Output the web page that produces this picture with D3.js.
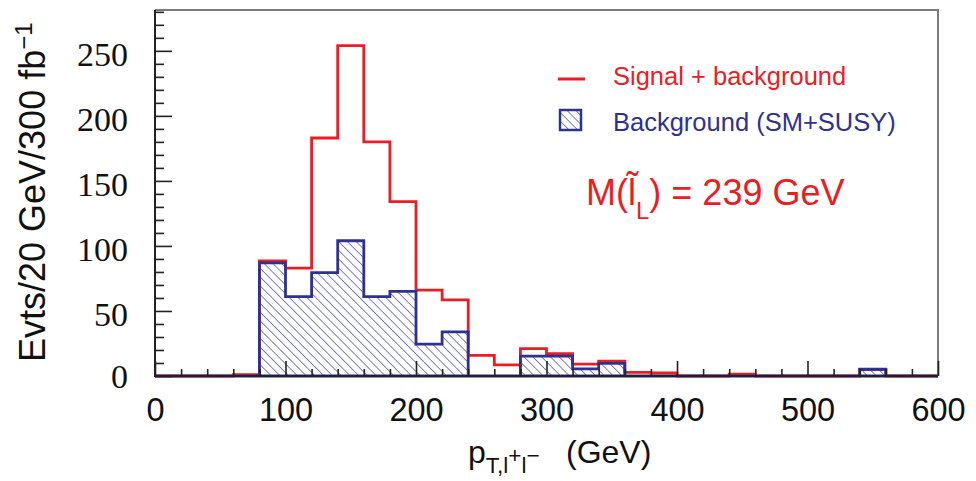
<!DOCTYPE html>
<html>
<head>
<meta charset="utf-8">
<script src="https://cdn.jsdelivr.net/npm/d3@7"></script>
<style>
  body { margin: 0; background: #ffffff; }
  svg { display: block; }
</style>
</head>
<body>
<svg id="chart" width="976" height="481"></svg>
<script>
// Lower edges of the 20 GeV bins in p_T(l+l-)
const binLow = [0, 20, 40, 60, 80, 100, 120, 140, 160, 180, 200, 220, 240, 260, 280,
                300, 320, 340, 360, 380, 400, 420, 440, 460, 480, 500, 520, 540, 560, 580];
const binWidth = 20;

// Signal + background, events / 20 GeV / 300 fb^-1
const signalPlusBkg = [0, 0, 0, 1, 88.5, 83, 183, 254, 180, 134, 66, 58.5, 15.8, 8.5, 21,
                       17.2, 9.2, 11.5, 2.8, 2.3, 0, 0, 1.5, 0, 0, 0, 0, 5, 0, 0];
// Background only (SM + SUSY)
const background = [0, 0, 0, 0, 87, 61, 79.5, 104, 61, 65, 24.5, 34, 0, 0, 15.3,
                    15.3, 5.5, 9.7, 0, 0, 0, 0, 0, 0, 0, 0, 0, 5.2, 0, 0];

const xMajorTicks = [0, 100, 200, 300, 400, 500, 600];
const yMajorTicks = [0, 50, 100, 150, 200, 250];

const legendLabels = ["Signal + background", "Background (SM+SUSY)"];
const massLabel = { pre: "M(", particle: "l\u0303", sub: "L", post: ") = 239 GeV" };

const RED = "#ec1c24";
const BLUE = "#2e3192";

const svg = d3.select("#chart");
const plot = { left: 155, right: 938, top: 10, bottom: 376 };

const x = d3.scaleLinear().domain([0, 600]).range([plot.left, plot.right]);
const y = d3.scaleLinear().domain([0, 281.4]).range([plot.bottom, plot.top]);

// hatch pattern for the background histogram
const defs = svg.append("defs");
const hatch = defs.append("pattern")
  .attr("id", "hatch")
  .attr("patternUnits", "userSpaceOnUse")
  .attr("width", 6.2).attr("height", 6.2)
  .attr("patternTransform", "rotate(-45)");
hatch.append("line")
  .attr("x1", 0).attr("y1", 0).attr("x2", 0).attr("y2", 6.2)
  .attr("stroke", BLUE).attr("stroke-width", 1.2);

defs.append("clipPath").attr("id", "plotClip")
  .append("rect")
  .attr("x", plot.left).attr("y", plot.top - 2)
  .attr("width", plot.right - plot.left).attr("height", plot.bottom - plot.top + 4);

// build step points: two per bin
function steps(values) {
  const pts = [];
  values.forEach((v, i) => {
    pts.push([binLow[i], v]);
    pts.push([binLow[i] + binWidth, v]);
  });
  return pts;
}

const g = svg.append("g").attr("clip-path", "url(#plotClip)");

const line = d3.line().x(d => x(d[0])).y(d => y(d[1]));
const baseLine = d3.line().x(d => x(d[0])).y(() => y(0));
const area = d3.area().x(d => x(d[0])).y0(y(0)).y1(d => y(d[1]));

g.append("path")
  .datum(steps(signalPlusBkg))
  .attr("d", line)
  .attr("fill", "none")
  .attr("stroke", RED)
  .attr("stroke-width", 2.8)
  .attr("stroke-linejoin", "miter");

g.append("path")
  .datum(steps(background))
  .attr("d", area)
  .attr("fill", "url(#hatch)")
  .attr("stroke", BLUE)
  .attr("stroke-width", 2.8)
  .attr("stroke-linejoin", "miter");

// frame (top and right)
svg.append("path")
  .attr("d", `M${plot.left},${plot.top}H${plot.right}V${plot.bottom}`)
  .attr("fill", "none")
  .attr("stroke", "#7a7a7a")
  .attr("stroke-width", 2);

// y axis: major ticks with labels, minor ticks every 10
const yMinor = d3.range(0, 281, 10).filter(v => v % 50 !== 0);
const yAxisMinor = svg.append("g")
  .attr("transform", `translate(${plot.left},0)`)
  .call(d3.axisLeft(y).tickValues(yMinor).tickSizeInner(-9).tickSizeOuter(0).tickFormat(""));
const yAxis = svg.append("g")
  .attr("transform", `translate(${plot.left},0)`)
  .call(d3.axisLeft(y).tickValues(yMajorTicks).tickSizeInner(-17).tickSizeOuter(0).tickPadding(27));
[yAxis, yAxisMinor].forEach(a => {
  a.select(".domain").remove();
  a.selectAll(".tick line").attr("stroke", "#222").attr("stroke-width", 1.6);
});
yAxis.selectAll(".tick text")
  .attr("font-family", "'Liberation Serif', 'Times New Roman', serif")
  .attr("font-size", 34)
  .attr("fill", "#111")
  .attr("dy", d => d === 0 ? "0.33em" : "0.44em");

// x axis: major every 100, minor every 20
const xMinor = d3.range(0, 601, 20).filter(v => v % 100 !== 0);
const xAxisMinor = svg.append("g")
  .attr("transform", `translate(0,${plot.bottom})`)
  .call(d3.axisBottom(x).tickValues(xMinor).tickSizeInner(-7).tickSizeOuter(0).tickFormat(""));
const xAxis = svg.append("g")
  .attr("transform", `translate(0,${plot.bottom})`)
  .call(d3.axisBottom(x).tickValues(xMajorTicks).tickSizeInner(-15).tickSizeOuter(0).tickPadding(22));
[xAxis, xAxisMinor].forEach(a => {
  a.select(".domain").remove();
  a.selectAll(".tick line").attr("stroke", "#222").attr("stroke-width", 1.6);
});
xAxis.selectAll(".tick text")
  .attr("font-family", "'Liberation Sans', Arial, sans-serif")
  .attr("font-size", 32.5)
  .attr("fill", "#111");

// axis lines
svg.append("path")
  .attr("d", `M${plot.left},${plot.top}V${plot.bottom}H${plot.right}`)
  .attr("fill", "none")
  .attr("stroke", "#222")
  .attr("stroke-width", 2);

// bottom edge of the background histogram over the axis line
g.append("path")
  .datum(steps(background))
  .attr("d", baseLine)
  .attr("fill", "none")
  .attr("stroke", BLUE)
  .attr("stroke-opacity", 0.55)
  .attr("stroke-width", 2);

// y axis title
const yTitle = svg.append("text")
  .attr("transform", "translate(45,362) rotate(-90)")
  .attr("font-family", "'Liberation Sans', Arial, sans-serif")
  .attr("font-size", 36)
  .attr("fill", "#111");
yTitle.append("tspan").text("Evts/20 GeV/300 fb");
yTitle.append("tspan").attr("font-size", 24).attr("dy", -13).text("\u22121");

// x axis title
const xt = svg.append("g")
  .attr("font-family", "'Liberation Sans', Arial, sans-serif")
  .attr("fill", "#111");
const xTitle = xt.append("text").attr("x", 468).attr("y", 463).attr("font-size", 32);
xTitle.append("tspan").text("p");
xTitle.append("tspan").attr("font-size", 22.5).attr("dy", 10).text("T,l");
xTitle.append("tspan").attr("font-size", 22.5).attr("dy", -10).text("+");
xTitle.append("tspan").attr("font-size", 22.5).attr("dy", 10).text("l");
xTitle.append("tspan").attr("font-size", 22.5).attr("dy", -10).text("\u2212");
xt.append("text").attr("x", 566).attr("y", 463).attr("font-size", 32).text("(GeV)");

// legend
const lg = svg.append("g")
  .attr("font-family", "'Liberation Sans', Arial, sans-serif")
  .attr("font-size", 25.5);
lg.append("line")
  .attr("x1", 558).attr("x2", 585).attr("y1", 79).attr("y2", 79)
  .attr("stroke", RED).attr("stroke-width", 3);
lg.append("text").attr("x", 613).attr("y", 85).attr("fill", RED).text(legendLabels[0]);
lg.append("rect")
  .attr("x", 560).attr("y", 110).attr("width", 21).attr("height", 20)
  .attr("fill", "url(#hatch)")
  .attr("stroke", BLUE).attr("stroke-width", 2.5);
lg.append("text").attr("x", 613).attr("y", 131).attr("fill", BLUE).text(legendLabels[1]);

// mass annotation: slepton symbol with combining tilde
const mText = svg.append("text")
  .attr("x", 586).attr("y", 205)
  .attr("font-family", "'Liberation Sans', Arial, sans-serif")
  .attr("font-size", 36)
  .attr("fill", RED);
mText.append("tspan").text(massLabel.pre);
mText.append("tspan").text(massLabel.particle);
mText.append("tspan").attr("font-size", 24).attr("dy", 14).text(massLabel.sub);
mText.append("tspan").attr("dy", -14).text(massLabel.post);
</script>
</body>
</html>
